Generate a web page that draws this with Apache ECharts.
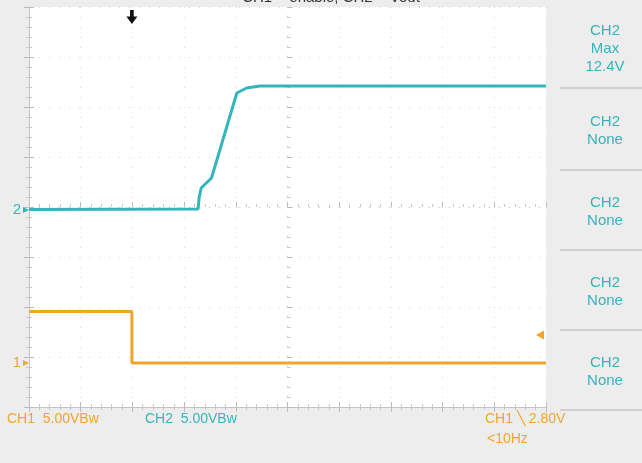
<!DOCTYPE html>
<html><head><meta charset="utf-8">
<script src="https://cdn.jsdelivr.net/npm/echarts@6/dist/echarts.min.js"></script>
<style>html,body{margin:0;padding:0;background:#ededed;}#c{width:642px;height:463px;}</style>
</head><body><div id="c"></div>
<script>
// Time in divisions (10 div across), volts
const ch1Time = [0, 1.99, 1.99, 10];
const ch1Volt = [5.15, 5.15, 0, 0];
const ch2Time = [0, 3.27, 3.29, 3.33, 3.53, 4.02, 4.21, 4.47, 10];
const ch2Volt = [0.05, 0.1, 1.2, 2.2, 3.2, 11.7, 12.2, 12.4, 12.4];
const triggerTime = 1.99;
const triggerLevel = 2.8;
const panelItems = [['CH2','Max','12.4V'],['CH2','None'],['CH2','None'],['CH2','None'],['CH2','None']];
const titleText = 'CH1 = enable, CH2 = Vout';
const ch1Scale = 'CH1  5.00VBw';
const ch2Scale = 'CH2  5.00VBw';
const trigText = 'CH1 \u2572 2.80V';
const freqText = '<10Hz';

const ORANGE = '#f2a52b', TEAL = '#35b5bb';
const FONT = '"Liberation Sans Narrow", "Liberation Sans", sans-serif';

const gridAxisBase = {
  type: 'value', min: 0, interval: 1,
  axisLabel: {show: false},
  axisLine: {show: true, lineStyle: {color: '#c4c4c4', width: 1}},
  axisTick: {show: true, inside: true, length: 5, lineStyle: {color: '#bbb'}},
  minorTick: {show: true, splitNumber: 5, length: 3, lineStyle: {color: '#c8c8c8'}},
  splitLine: {show: false}
};

const chart = echarts.init(document.getElementById('c'));
const graphics = [
  {type:'text', x: 331, y: -10, z: 100, style:{text: titleText, font: '15px "Liberation Sans", sans-serif', fill:'#333', align: 'center'}},
  {type:'text', left: 7, top: 412, style:{text: ch1Scale, font: '14px ' + FONT, fill: ORANGE}},
  {type:'text', left: 145, top: 412, style:{text: ch2Scale, font: '14px ' + FONT, fill: TEAL}},
  {type:'text', left: 485, top: 412, style:{text: trigText, font: '14px ' + FONT, fill: ORANGE}},
  {type:'text', left: 487, top: 432, style:{text: freqText, font: '14px ' + FONT, fill: ORANGE}}
];
const seps = [88, 170, 250, 330, 410];
seps.forEach(y => graphics.push({type:'line', shape:{x1:560,y1:y,x2:642,y2:y}, style:{stroke:'#cfcfcf', lineWidth:2}}));
const boxTops = [8, 90, 172, 252, 332];
panelItems.forEach((it, i) => {
  const h = it.length * 18;
  const boxH = (seps[i] - boxTops[i]);
  graphics.push({type:'text', x: 605, y: boxTops[i] + (boxH - h)/2 + 1,
    style:{text: it.join('\n'), font: '15px ' + FONT, fill: TEAL, align:'center', lineHeight: 18}});
});

chart.setOption({
  animation: false,
  backgroundColor: '#ededed',
  grid: {left: 29, right: 96, top: 7, bottom: 56, show: true, backgroundColor: '#fff', borderWidth: 0},
  graphic: graphics,
  xAxis: [
    Object.assign({}, gridAxisBase, {max: 10, position: 'bottom',
      splitLine: {show: true, lineStyle: {color: '#d8d8d8', type: [1, 9], width: 1}}}),
    Object.assign({}, gridAxisBase, {max: 10, position: 'top'}),
    Object.assign({}, gridAxisBase, {max: 10, position: 'bottom', offset: -200,
      axisLine: {show: true, lineStyle: {color: '#d0d0d0', type: [1, 9]}}})
  ],
  yAxis: [
    Object.assign({}, gridAxisBase, {max: 8, position: 'left',
      splitLine: {show: true, lineStyle: {color: '#d8d8d8', type: [1, 9], width: 1}}}),
    Object.assign({}, gridAxisBase, {max: 8, position: 'right'}),
    Object.assign({}, gridAxisBase, {max: 8, position: 'left', offset: -258.5,
      axisLine: {show: true, lineStyle: {color: '#d0d0d0', type: [1, 9]}}}),
    {type: 'value', min: -19.7, max: 20.3, show: false},
    {type: 'value', min: -4.4, max: 35.6, show: false}
  ],
  series: [
    {type: 'line', xAxisIndex: 0, yAxisIndex: 4, data: ch1Time.map((t, i) => [t, ch1Volt[i]]),
     symbol: 'none', lineStyle: {color: ORANGE, width: 3}, z: 5,
     markPoint: {silent: true, data: [
       {coord: [0, 0], symbol: 'triangle', symbolRotate: -90, symbolSize: [6, 6], symbolOffset: [-3, 0],
        itemStyle: {color: ORANGE},
        label: {show: true, formatter: '1', position: 'left', distance: 2, color: ORANGE, fontSize: 15, fontFamily: FONT}},
       {coord: [10, triggerLevel], symbol: 'triangle', symbolRotate: 90, symbolSize: [9, 8], symbolOffset: [-6, 0],
        itemStyle: {color: ORANGE}, label: {show: false}},
       {coord: [triggerTime, 34.6], symbol: 'path://M-2,-6 L2,-6 L2,0 L6,0 L0,7 L-6,0 L-2,0 Z', symbolSize: [11, 14],
        itemStyle: {color: '#111'}, label: {show: false}}
     ]}},
    {type: 'line', xAxisIndex: 0, yAxisIndex: 3, data: ch2Time.map((t, i) => [t, ch2Volt[i]]),
     symbol: 'none', lineStyle: {color: TEAL, width: 3}, z: 6,
     markPoint: {silent: true, data: [
       {coord: [0, 0], symbol: 'triangle', symbolRotate: -90, symbolSize: [6, 6], symbolOffset: [-3, 0],
        itemStyle: {color: TEAL},
        label: {show: true, formatter: '2', position: 'left', distance: 2, color: TEAL, fontSize: 15, fontFamily: FONT}}
     ]}}
  ]
});
</script></body></html>
